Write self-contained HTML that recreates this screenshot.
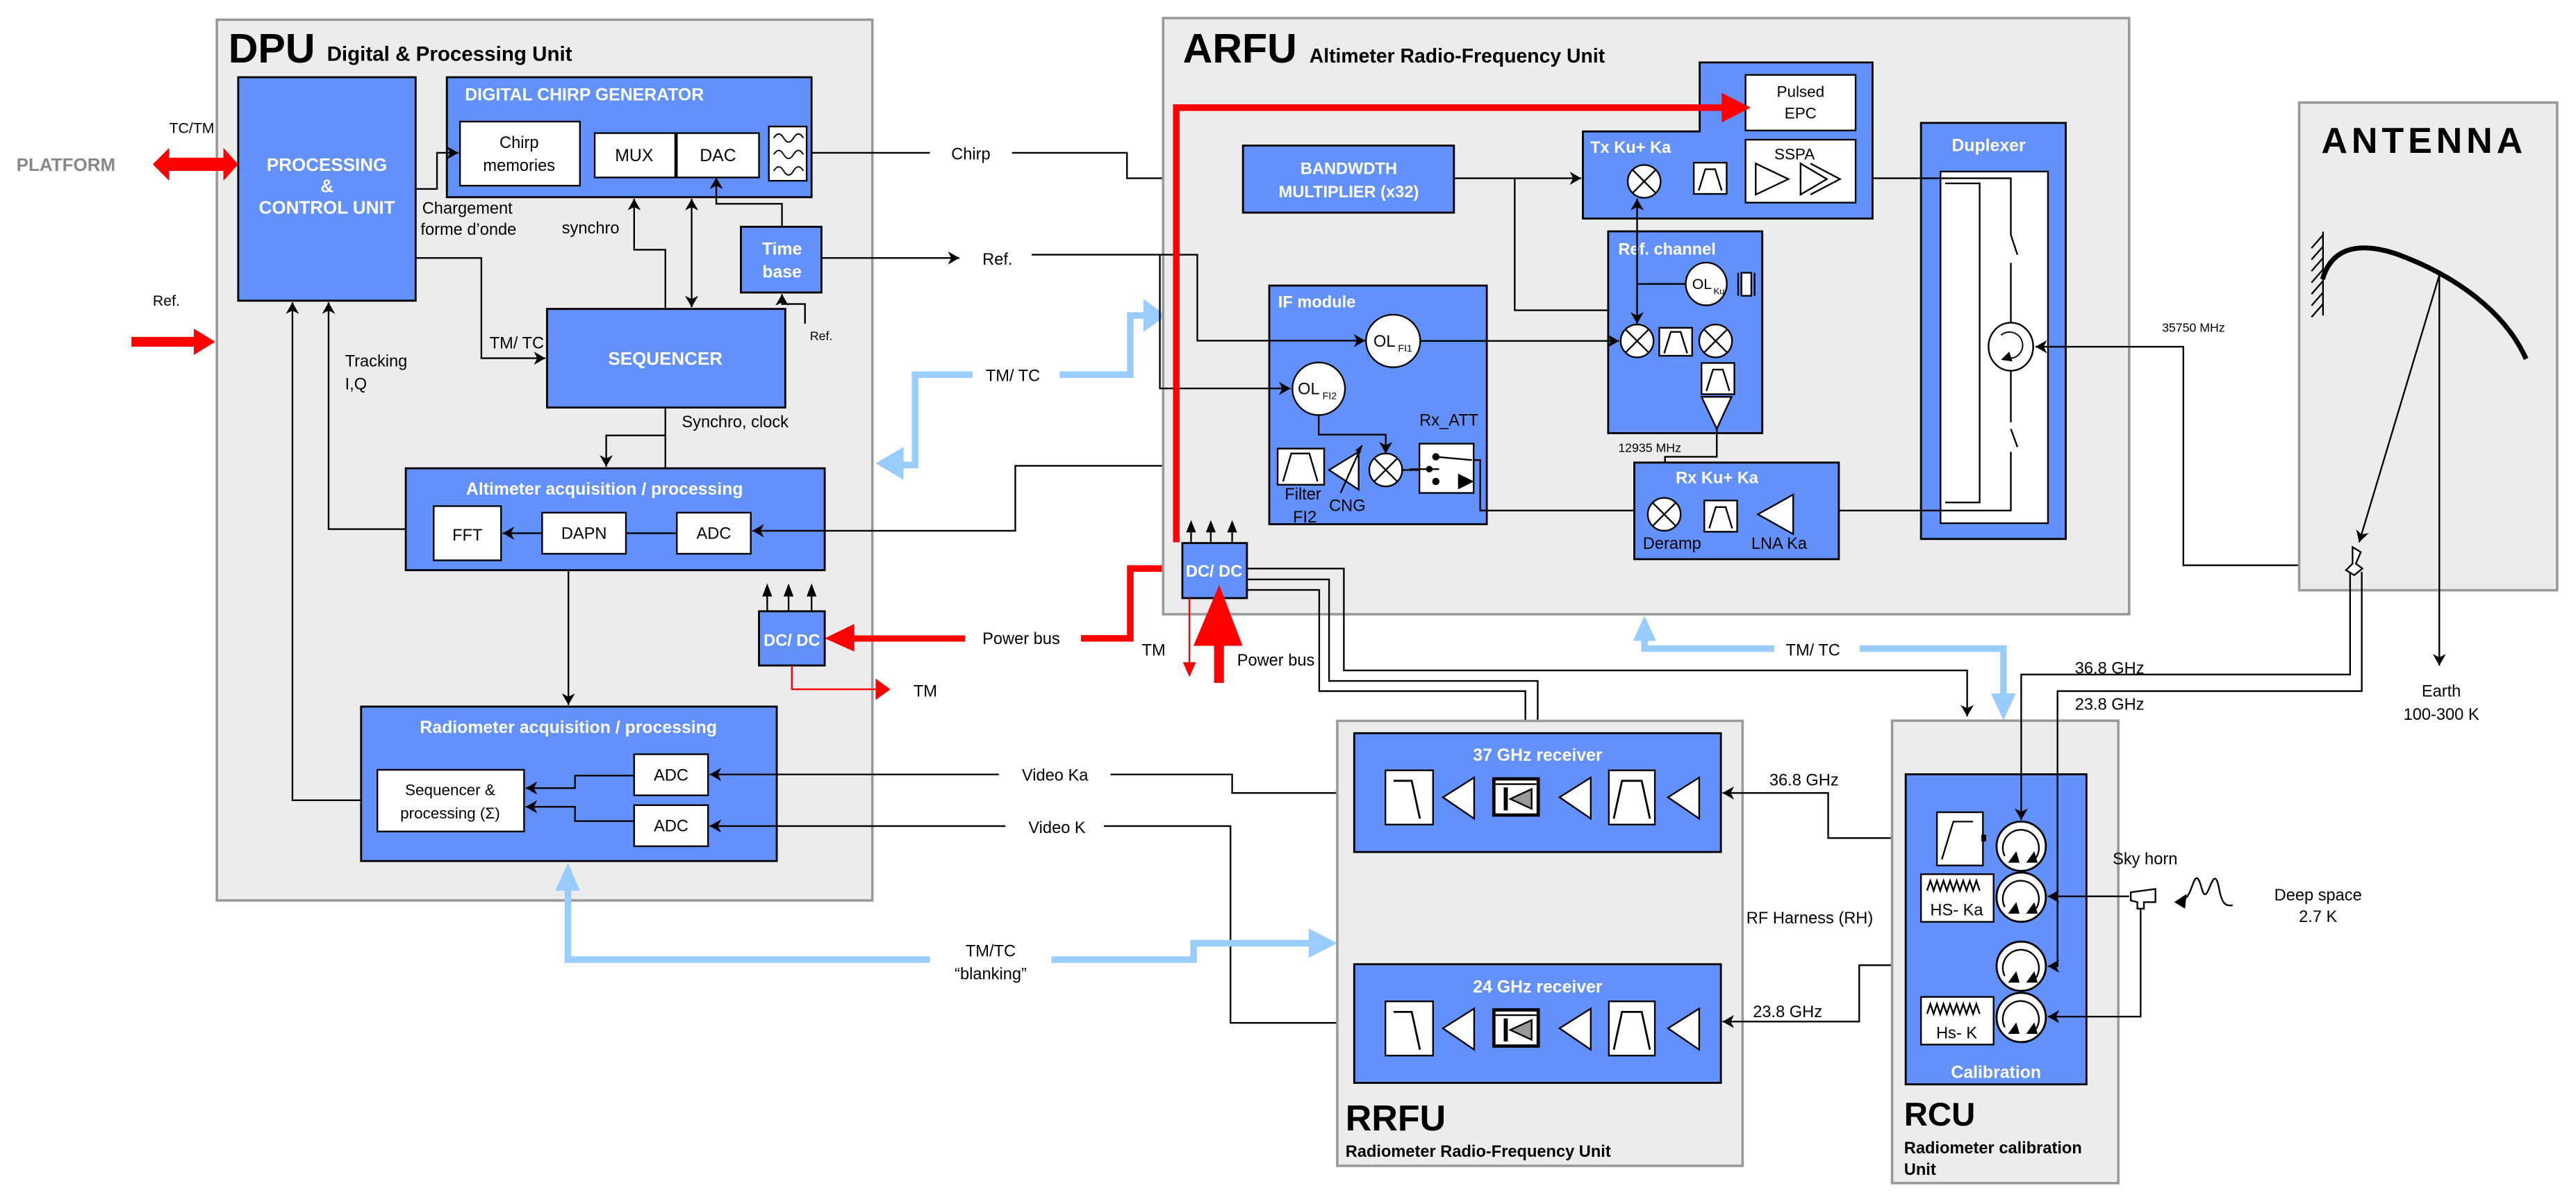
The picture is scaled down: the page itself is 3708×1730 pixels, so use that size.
<!DOCTYPE html>
<html><head><meta charset="utf-8"><style>
html,body{margin:0;padding:0;background:#fff;}
svg{display:block;}
text{font-family:"Liberation Sans",Arial,sans-serif;}
.w{fill:#fff;font-weight:bold;}
.l{fill:none;stroke:#000;stroke-width:1;}
.bl{fill:#6391fb;stroke:#000;stroke-width:1.2;}
.gr{fill:#ececec;stroke:#999;stroke-width:1.5;}
.wb{fill:#fff;stroke:#000;stroke-width:1;}
.lb{fill:none;stroke:#99ccff;stroke-width:4;}
</style></head><body>
<svg width="3708" height="1730" viewBox="0 0 1568 731.5" preserveAspectRatio="none" xmlns="http://www.w3.org/2000/svg">
<defs>
<marker id="a" markerUnits="userSpaceOnUse" markerWidth="8" markerHeight="8" refX="7" refY="4" orient="auto"><path d="M0,0 L7,4 L0,8 L2,4 Z" fill="#000"/></marker>
<marker id="as" markerUnits="userSpaceOnUse" markerWidth="8" markerHeight="8" refX="0" refY="4" orient="auto"><path d="M7,0 L0,4 L7,8 L5,4 Z" fill="#000"/></marker>
<g id="mx"><circle r="10" fill="#fff" stroke="#000" stroke-width="1"/><path d="M-7,-7 L7,7 M7,-7 L-7,7" stroke="#000" stroke-width="1"/></g>
<g id="bp"><rect x="0" y="0" width="20" height="19" fill="#fff" stroke="#000"/><path d="M3,17 L7,4 L13,4 L17,17" fill="none" stroke="#000"/></g>
<g id="rx">
<rect x="19" y="22.6" width="29" height="33" fill="#fff" stroke="#000"/><path d="M24,29 L35,29 L40,52" fill="none" stroke="#000" stroke-width="1.2"/>
<path d="M73,27 L54,39 L73,52 Z" fill="#fff" stroke="#000"/>
<rect x="85" y="27.8" width="27" height="22" fill="#fff" stroke="#000" stroke-width="2"/><path d="M86,31 L111,31" stroke="#000"/><rect x="91" y="33" width="2.5" height="14" fill="#000"/><path d="M108,34 L95,40 L108,46 Z" fill="#999" stroke="#000"/>
<path d="M144,27 L125,39 L144,52 Z" fill="#fff" stroke="#000"/>
<rect x="155" y="22.6" width="28" height="33" fill="#fff" stroke="#000"/><path d="M158,52 L163,29 L175,29 L180,52" fill="none" stroke="#000" stroke-width="1.2"/>
<path d="M210,27 L191,39 L210,52 Z" fill="#fff" stroke="#000"/>
</g>
<g id="cs"><circle r="15" fill="#fff" stroke="#000" stroke-width="1.2"/><path d="M-10,6 A11,11 0 1 1 9,7" fill="none" stroke="#000" stroke-width="1"/><path d="M-8,10 L-3,3 L-1,10 Z M3,10 L8,3 L10,10 Z" fill="#000"/></g>
</defs>

<!-- ===== DPU ===== -->
<rect class="gr" x="132" y="12" width="399" height="536"/>
<text x="139" y="38" font-size="25" font-weight="bold">DPU</text>
<text x="199" y="37" font-size="12.5" font-weight="bold">Digital &amp; Processing Unit</text>

<rect class="bl" x="145" y="47" width="108" height="136"/>
<text class="w" x="199" y="104" font-size="11" text-anchor="middle">PROCESSING</text>
<text class="w" x="199" y="117" font-size="11" text-anchor="middle">&amp;</text>
<text class="w" x="199" y="130" font-size="11" text-anchor="middle">CONTROL UNIT</text>

<rect class="bl" x="272" y="47" width="222" height="73"/>
<text class="w" x="283" y="61" font-size="10.5">DIGITAL CHIRP GENERATOR</text>
<rect class="wb" x="280" y="74" width="73" height="39"/>
<text x="316" y="90" font-size="10" text-anchor="middle">Chirp</text>
<text x="316" y="104" font-size="10" text-anchor="middle">memories</text>
<rect class="wb" x="362" y="81" width="49" height="27"/><text x="386" y="98" font-size="10.5" text-anchor="middle">MUX</text>
<rect class="wb" x="412" y="81" width="50" height="27"/><text x="437" y="98" font-size="10.5" text-anchor="middle">DAC</text>
<rect class="wb" x="468" y="77" width="23" height="33"/>
<path d="M471,84 q3,-5 6,0 q3,5 6,0 q3,-5 6,0 M471,94 q3,-5 6,0 q3,5 6,0 q3,-5 6,0 M471,104 q3,-5 6,0 q3,5 6,0 q3,-5 6,0" fill="none" stroke="#000" stroke-width="0.8"/>

<!-- PLATFORM -->
<text x="10" y="104" font-size="11" font-weight="bold" fill="#888">PLATFORM</text>
<text x="103" y="81" font-size="9">TC/TM</text>
<path d="M93,100 L103,90 L103,96 L136,96 L136,90 L145,100 L136,110 L136,104 L103,104 L103,110 Z" fill="#f00"/>
<text x="93" y="186" font-size="9">Ref.</text>
<path d="M80,205 L118,205 L118,200 L131,208 L118,216 L118,211 L80,211 Z" fill="#f00"/>

<path class="l" d="M253,115 L266,115 L266,93 L279,93" marker-end="url(#a)"/>
<text x="257" y="130" font-size="10">Chargement</text>
<text x="256" y="143" font-size="10">forme d’onde</text>
<path class="l" d="M253,157 L293,157 L293,218 L332,218" marker-end="url(#a)"/>
<text x="298" y="212" font-size="10">TM/ TC</text>

<rect class="bl" x="333" y="188" width="145" height="60"/>
<text class="w" x="405" y="222" font-size="11" text-anchor="middle">SEQUENCER</text>

<path class="l" d="M405,188 L405,152 L386,152 L386,121" marker-end="url(#a)"/>
<text x="342" y="142" font-size="10">synchro</text>
<path class="l" d="M421,121 L421,187" marker-start="url(#as)" marker-end="url(#a)"/>

<rect class="bl" x="451" y="138" width="49" height="40"/>
<text class="w" x="476" y="155" font-size="10.5" text-anchor="middle">Time</text>
<text class="w" x="476" y="169" font-size="10.5" text-anchor="middle">base</text>
<path class="l" d="M476,138 L476,124 L436,124 L436,108" marker-end="url(#a)"/>
<path class="l" d="M490,197 L490,185 L476,185 L476,179" marker-end="url(#a)"/>
<text x="493" y="207" font-size="7.5">Ref.</text>
<path class="l" d="M500,157 L584,157" marker-end="url(#a)"/>
<text x="598" y="161" font-size="10">Ref.</text>
<path class="l" d="M494,93 L566,93"/>
<text x="579" y="97" font-size="10">Chirp</text>
<path class="l" d="M616,93 L686,93 L686,108.5 L755,108.5" marker-end="url(#a)"/>

<path class="l" d="M219.8,487 L178,487 L178,184" marker-end="url(#a)"/>
<path class="l" d="M247,322 L200,322 L200,184" marker-end="url(#a)"/>
<text x="210" y="223" font-size="10">Tracking</text>
<text x="210" y="237" font-size="10">I,Q</text>

<path class="l" d="M405,248 L405,285 M405,265 L369,265 L369,284" marker-end="url(#a)"/>
<text x="415" y="260" font-size="10">Synchro, clock</text>

<rect class="bl" x="247" y="285" width="255" height="62"/>
<text class="w" x="368" y="301" font-size="10.5" text-anchor="middle">Altimeter acquisition / processing</text>
<rect class="wb" x="264" y="308" width="41" height="33"/><text x="284.5" y="329" font-size="10" text-anchor="middle">FFT</text>
<rect class="wb" x="330" y="312" width="51" height="25"/><text x="355.5" y="328" font-size="10" text-anchor="middle">DAPN</text>
<rect class="wb" x="412" y="312" width="45" height="25"/><text x="434.5" y="328" font-size="10" text-anchor="middle">ADC</text>
<path class="l" d="M412,324.5 L381,324.5 M330,324.5 L306,324.5" marker-end="url(#a)"/>
<path class="l" d="M777,283.5 L618,283.5 L618,323 L458,323" stroke-width="1.3" marker-end="url(#a)"/>
<path class="l" d="M346,347 L346,429" marker-end="url(#a)"/>

<rect class="bl" x="462" y="372" width="40" height="33"/>
<text class="w" x="482" y="393" font-size="10" text-anchor="middle">DC/ DC</text>
<path class="l" d="M467,372 L467,358 M480,372 L480,358 M494,372 L494,358"/>
<path d="M467,355 L464,363 L470,363 Z M480,355 L477,363 L483,363 Z M494,355 L491,363 L497,363 Z" fill="#000"/>
<path d="M502,388.5 L520,379.7 L520,386.7 L587.5,386.7 L587.5,390.5 L520,390.5 L520,396.5 Z" fill="#f00"/>
<text x="598" y="392" font-size="10">Power bus</text>
<path d="M658,388.5 L688,388.5 L688,346 L719,346" fill="none" stroke="#f00" stroke-width="4"/>
<path d="M482,405 L482,419.5 L535,419.5" fill="none" stroke="#f00" stroke-width="1"/>
<path d="M533,413 L542,419.5 L533,426 Z" fill="#f00"/>
<text x="556" y="424" font-size="10">TM</text>

<rect class="bl" x="219.8" y="430" width="253" height="94"/>
<text class="w" x="346" y="446" font-size="10.5" text-anchor="middle">Radiometer acquisition / processing</text>
<rect class="wb" x="229.7" y="468.5" width="89.3" height="37.5"/>
<text x="274" y="484" font-size="9.5" text-anchor="middle">Sequencer &amp;</text>
<text x="274" y="498" font-size="9.5" text-anchor="middle">processing (Σ)</text>
<rect class="wb" x="386" y="459" width="45" height="25"/><text x="408.5" y="475" font-size="10" text-anchor="middle">ADC</text>
<rect class="wb" x="386" y="490" width="45" height="25"/><text x="408.5" y="506" font-size="10" text-anchor="middle">ADC</text>
<path class="l" d="M386,472 L350,472 L350,479.6 L320,479.6" marker-end="url(#a)"/>
<path class="l" d="M386,499.7 L350,499.7 L350,491 L320,491" marker-end="url(#a)"/>
<path class="l" d="M608,471.3 L432,471.3" marker-end="url(#a)"/>
<text x="622" y="475" font-size="10">Video Ka</text>
<path class="l" d="M676,471.3 L750,471.3 L750,482.6 L824,482.6"/>
<path class="l" d="M612,502.7 L432,502.7" marker-end="url(#a)"/>
<text x="626" y="507" font-size="10">Video K</text>
<path class="l" d="M672,502.7 L749,502.7 L749,622.5 L824,622.5"/>

<path class="lb" d="M549,283 L557,283 L557,228 L592,228"/>
<path d="M533,282 L550,272 L550,292 Z" fill="#99ccff"/>
<text x="600" y="232" font-size="10">TM/ TC</text>
<path class="lb" d="M645,228 L688,228 L688,192 L697,192"/>
<path d="M710,192 L696,182 L696,202 Z" fill="#99ccff"/>
<path class="lb" d="M345.7,540 L345.7,584 L566,584"/>
<path d="M345.7,525 L338,542 L353,542 Z" fill="#99ccff"/>
<text x="603" y="582" font-size="10" text-anchor="middle">TM/TC</text>
<text x="603" y="596" font-size="10" text-anchor="middle">“blanking”</text>
<path class="lb" d="M640,584 L726.5,584 L726.5,574 L798,574"/>
<path d="M814,574 L796.6,565 L796.6,583 Z" fill="#99ccff"/>

<!-- ===== ARFU ===== -->
<rect class="gr" x="708" y="11" width="588" height="362.8"/>
<text x="720" y="38" font-size="25" font-weight="bold">ARFU</text>
<text x="797" y="38" font-size="12" font-weight="bold">Altimeter Radio-Frequency Unit</text>

<rect class="bl" x="756.6" y="88.6" width="128.4" height="40.8"/>
<text class="w" x="821" y="106" font-size="10" text-anchor="middle">BANDWDTH</text>
<text class="w" x="821" y="120" font-size="10" text-anchor="middle">MULTIPLIER (x32)</text>
<path class="l" d="M885,108.5 L962.5,108.5" marker-end="url(#a)"/>
<path class="l" d="M922,108.5 L922,188.8 L1044.3,188.8 L1044.3,196" marker-end="url(#a)"/>

<path class="bl" d="M963.5,133 L963.5,80 L1034.6,80 L1034.6,38 L1139.8,38 L1139.8,133 Z"/>
<rect class="wb" x="1062.5" y="45.6" width="67" height="33.8"/>
<text x="1096" y="59" font-size="9.5" text-anchor="middle">Pulsed</text>
<text x="1096" y="72" font-size="9.5" text-anchor="middle">EPC</text>
<rect class="wb" x="1062.5" y="85" width="67" height="38.3"/>
<text x="1080" y="97" font-size="9.5">SSPA</text>
<path d="M1068.7,99.5 L1088.6,109 L1068.7,118.4 Z M1096,99.5 L1112,109 L1096,118.4 Z M1102,99.5 L1120,109 L1102,118.4" fill="none" stroke="#000"/>
<text class="w" x="968" y="93" font-size="10">Tx Ku+ Ka</text>
<use href="#mx" x="1000.8" y="110.4"/>
<use href="#bp" x="1031" y="99"/>

<rect class="bl" x="978.9" y="140.8" width="93.8" height="122.8"/>
<text class="w" x="985" y="155" font-size="10">Ref. channel</text>
<path class="l" d="M996.5,121 L996.5,197" marker-start="url(#as)" marker-end="url(#a)"/>
<path class="l" d="M996.5,172.8 L1026,172.8"/>
<ellipse cx="1038.6" cy="172.8" rx="12.5" ry="13" fill="#fff" stroke="#000"/>
<text x="1030" y="176" font-size="9">OL</text><text x="1043" y="179" font-size="5.5">Ku</text>
<path d="M1058,166 L1058,180 M1068,166 L1068,180" stroke="#000"/><rect x="1060" y="166" width="6" height="14" fill="#fff" stroke="#000"/>
<use href="#mx" x="996.5" y="207.5"/>
<use href="#mx" x="1044.3" y="207.5"/>
<rect class="wb" x="1010" y="199.5" width="20" height="17"/><path d="M1013,215 L1017,202 L1023,202 L1027,215" fill="none" stroke="#000"/>
<use href="#bp" x="1035.7" y="220.9"/>
<path d="M1035.7,241.5 L1054,241.5 L1045,261 Z" fill="#fff" stroke="#000"/>
<path class="l" d="M1045,261 L1045,278 L1013.5,278 L1013.5,302" marker-end="url(#a)"/>
<text x="985" y="275" font-size="7.5">12935 MHz</text>

<rect class="bl" x="772.6" y="173.8" width="132.4" height="145.2"/>
<text class="w" x="778" y="187" font-size="10">IF module</text>
<path class="l" d="M628,155 L728.8,155 L728.8,207.3 L831,207.3" marker-end="url(#a)"/>
<ellipse cx="848" cy="207.5" rx="16.5" ry="16" fill="#fff" stroke="#000"/>
<text x="836" y="211" font-size="10">OL</text><text x="851" y="214" font-size="6">FI1</text>
<path class="l" d="M864.5,207.5 L985.5,207.5" marker-end="url(#a)"/>
<path class="l" d="M706,155 L706,236.4 L785.5,236.4" marker-end="url(#a)"/>
<ellipse cx="802.7" cy="236.6" rx="16" ry="16" fill="#fff" stroke="#000"/>
<text x="790" y="240" font-size="10">OL</text><text x="805" y="243" font-size="6">FI2</text>
<path class="l" d="M802.7,252.6 L802.7,264.5 L843.5,264.5 L843.5,276" marker-end="url(#a)"/>
<use href="#mx" x="843.5" y="286"/>
<rect class="wb" x="777.7" y="273" width="28.3" height="22"/><path d="M781,293 L786,276 L797,276 L802,293" fill="none" stroke="#000"/>
<path d="M827,275 L809,286 L827,298 Z" fill="#fff" stroke="#000"/><path d="M816,300 L829,271" stroke="#000"/><path d="M829,271 L825,274 L828,276 Z" fill="#000"/>
<text x="864" y="259" font-size="10">Rx_ATT</text>
<rect class="wb" x="864" y="270" width="33" height="30"/>
<circle cx="874" cy="278" r="2.2"/><circle cx="874" cy="293" r="2.2"/><circle cx="870" cy="285.5" r="2"/>
<path d="M858,285.5 L876,285.5 M874,278 L896,280 M896,293 L888,289 L888,297 Z" stroke="#000" fill="#000"/>
<path class="l" d="M853,286 L864,286"/>
<text x="782" y="304" font-size="10">Filter</text>
<text x="787" y="318" font-size="10">FI2</text>
<text x="809" y="311" font-size="10">CNG</text>
<path class="l" d="M897,280 L901,280 L901,310.7 L994.8,310.7"/>

<rect class="bl" x="994.8" y="281.5" width="124.5" height="58.8"/>
<text class="w" x="1020" y="294" font-size="10">Rx Ku+ Ka</text>
<use href="#mx" x="1013" y="313"/>
<use href="#bp" x="1037.4" y="304.6"/>
<path d="M1091.5,301 L1070,313 L1091.5,325 Z" fill="#fff" stroke="#000"/>
<text x="1000" y="334" font-size="10">Deramp</text>
<text x="1066" y="334" font-size="10">LNA Ka</text>

<rect class="bl" x="1169.3" y="74.8" width="88.1" height="253.2"/>
<text class="w" x="1188" y="92" font-size="10.5">Duplexer</text>
<rect class="wb" x="1181.2" y="104.4" width="65.4" height="214"/>
<path class="l" d="M1184,111.6 L1205,111.6 L1205,305.8 L1184,305.8" stroke-width="1.3"/>
<path class="l" d="M1139.8,108.5 L1224,108.5 L1224,143 L1228,155 M1224,160 L1224,257 M1224,261 L1228,272 M1224,275 L1224,310.7 L1119.3,310.7"/>
<ellipse cx="1224" cy="211" rx="13.6" ry="14.6" fill="#fff" stroke="#000"/>
<path d="M1218,204 A8,8 0 1 1 1222,218" fill="none" stroke="#000" stroke-width="0.8"/><path d="M1218,219 L1223,214 L1225,220 Z" fill="#000"/>
<path class="l" d="M1437,344 L1329,344 L1329,211 L1239,211" marker-end="url(#a)"/>
<text x="1316" y="202" font-size="7.5">35750 MHz</text>

<path d="M716,330 L716,65.5 L1048,65.5" fill="none" stroke="#f00" stroke-width="4"/>
<path d="M1065.6,65.5 L1048,56.5 L1048,74.5 Z" fill="#f00"/>
<rect class="bl" x="719.7" y="330.5" width="39.3" height="33.5"/>
<text class="w" x="739" y="351" font-size="10" text-anchor="middle">DC/ DC</text>
<path class="l" d="M725,330.5 L725,320 M737,330.5 L737,320 M750,330.5 L750,320"/>
<path d="M725,316.5 L722,324 L728,324 Z M737,316.5 L734,324 L740,324 Z M750,316.5 L747,324 L753,324 Z" fill="#000"/>
<path d="M724,364 L724,405" stroke="#f00" stroke-width="1"/><path d="M720,403 L724,412 L728,403 Z" fill="#f00"/>
<path d="M742,415.6 L742,388 M731,390 L742,364 L752,390 Z" stroke="#f00" stroke-width="6" fill="#f00"/>
<text x="695" y="399" font-size="10">TM</text>
<text x="753" y="405" font-size="10">Power bus</text>
<path class="l" d="M759,346 L818,346 L818,408 L1197.4,408 L1197.4,436" marker-end="url(#a)"/>
<path class="l" d="M759,352.6 L809,352.6 L809,414.4 L936,414.4 L936,445" marker-end="url(#a)"/>
<path class="l" d="M759,359 L803,359 L803,420.6 L928.5,420.6 L928.5,586.8"/>

<path class="lb" d="M1001,386 L1001,394.7 L1080,394.7"/>
<path d="M1001,374.7 L994,390 L1008,390 Z" fill="#99ccff"/>
<text x="1087" y="399" font-size="10">TM/ TC</text>
<path class="lb" d="M1132,394.7 L1219.5,394.7 L1219.5,424"/>
<path d="M1219.5,438.6 L1212,422 L1227,422 Z" fill="#99ccff"/>

<!-- ===== Antenna ===== -->
<rect class="gr" x="1399.5" y="62.4" width="157" height="296.8"/>
<text x="1413" y="93" font-size="22" font-weight="bold" letter-spacing="2.5">ANTENNA</text>
<path d="M1413.7,170 C1420,148 1440,148 1460,155 C1495,168 1525,190 1537.6,218.4" fill="none" stroke="#000" stroke-width="3"/>
<path class="l" d="M1414,141 L1414,192 M1414,143 L1407,151 M1414,150 L1407,158 M1414,157 L1407,165 M1414,164 L1407,172 M1414,171 L1407,179 M1414,178 L1407,186 M1414,185 L1407,193"/>
<path class="l" d="M1484.8,167.5 L1436,330" marker-end="url(#a)"/>
<path class="l" d="M1484.8,167.5 L1484.8,405" marker-end="url(#a)"/>
<path d="M1432,333 L1437,336 L1434,343 L1438,346 L1433,350 L1428,347 L1432,343 Z" fill="#fff" stroke="#000"/>
<text x="1486" y="424" font-size="10" text-anchor="middle">Earth</text>
<text x="1486" y="438" font-size="10" text-anchor="middle">100-300 K</text>

<!-- ===== RRFU ===== -->
<rect class="gr" x="814" y="438.7" width="246.7" height="270.8"/>
<rect class="bl" x="824.3" y="446.2" width="223.2" height="72.3"/>
<text class="w" x="936" y="463" font-size="10.5" text-anchor="middle">37 GHz receiver</text>
<use href="#rx" x="824.3" y="446.2"/>
<rect class="bl" x="824.3" y="586.8" width="223.2" height="72.2"/>
<text class="w" x="936" y="604" font-size="10.5" text-anchor="middle">24 GHz receiver</text>
<use href="#rx" x="824.3" y="586.8"/>
<text x="819" y="688" font-size="22" font-weight="bold">RRFU</text>
<text x="819" y="704" font-size="10" font-weight="bold">Radiometer Radio-Frequency Unit</text>
<path class="l" d="M1179,510 L1112.8,510 L1112.8,482.6 L1048.5,482.6" marker-end="url(#a)"/>
<text x="1077" y="478" font-size="10">36.8 GHz</text>
<path class="l" d="M1214.5,587.4 L1131.7,587.4 L1131.7,621.7 L1048.5,621.7" marker-end="url(#a)"/>
<text x="1067" y="619" font-size="10">23.8 GHz</text>
<text x="1063" y="562" font-size="10">RF Harness (RH)</text>

<!-- ===== RCU ===== -->
<rect class="gr" x="1151.7" y="438.6" width="137.7" height="281.4"/>
<rect class="bl" x="1160" y="471.2" width="110" height="188.7"/>
<text class="w" x="1215" y="656" font-size="10.5" text-anchor="middle">Calibration</text>
<rect class="wb" x="1179" y="494.3" width="28" height="32.4"/><path class="l" d="M1182,523 L1189,500 L1201,500"/>
<rect x="1206" y="508" width="3" height="4"/>
<rect class="wb" x="1169.3" y="532" width="44.2" height="29"/>
<path class="l" d="M1173,542 l2,-6 l2,6 l2,-6 l2,6 l2,-6 l2,6 l2,-6 l2,6 l2,-6 l2,6 l2,-6 l2,6 l2,-6 l2,6 l2,-6 l2,6"/>
<text x="1191" y="557" font-size="10" text-anchor="middle">HS- Ka</text>
<rect class="wb" x="1169.3" y="606.7" width="44.2" height="29"/>
<path class="l" d="M1173,617 l2,-6 l2,6 l2,-6 l2,6 l2,-6 l2,6 l2,-6 l2,6 l2,-6 l2,6 l2,-6 l2,6 l2,-6 l2,6 l2,-6 l2,6"/>
<text x="1191" y="632" font-size="10" text-anchor="middle">Hs- K</text>
<use href="#cs" x="1230.3" y="515"/>
<use href="#cs" x="1230.3" y="546"/>
<use href="#cs" x="1230.3" y="588"/>
<use href="#cs" x="1230.3" y="619.2"/>
<path class="l" d="M1430.5,348 L1430.5,410.5 L1230.3,410.5 L1230.3,499" marker-end="url(#a)"/>
<text x="1263" y="410" font-size="10">36.8 GHz</text>
<path class="l" d="M1437.6,348 L1437.6,420.6 L1252.4,420.6 L1252.4,588 L1246.5,588" marker-end="url(#a)"/>
<text x="1263" y="432" font-size="10">23.8 GHz</text>
<path class="l" d="M1296,545.5 L1246.5,545.5" marker-end="url(#a)"/>
<path class="l" d="M1303,553 L1303,618.7 L1246.5,618.7" marker-end="url(#a)"/>
<path d="M1297,543 L1312,541 L1312,549 L1305,549 L1305,553 L1301,553 L1301,549 L1297,548 Z" fill="#fff" stroke="#000"/>
<text x="1286" y="526" font-size="10">Sky horn</text>
<path class="l" d="M1325,549 L1331,546 C1335,542 1336,526 1340,540 C1344,556 1347,520 1351,542 C1353,552 1356,551 1359,551"/>
<path d="M1323.5,549 L1331,544 L1330,553 Z" fill="#000"/>
<text x="1411" y="548" font-size="10" text-anchor="middle">Deep space</text>
<text x="1411" y="561" font-size="10" text-anchor="middle">2.7 K</text>
<text x="1159" y="685" font-size="20" font-weight="bold">RCU</text>
<text x="1159" y="702" font-size="10" font-weight="bold">Radiometer calibration</text>
<text x="1159" y="715" font-size="10" font-weight="bold">Unit</text>
</svg>
</body></html>
